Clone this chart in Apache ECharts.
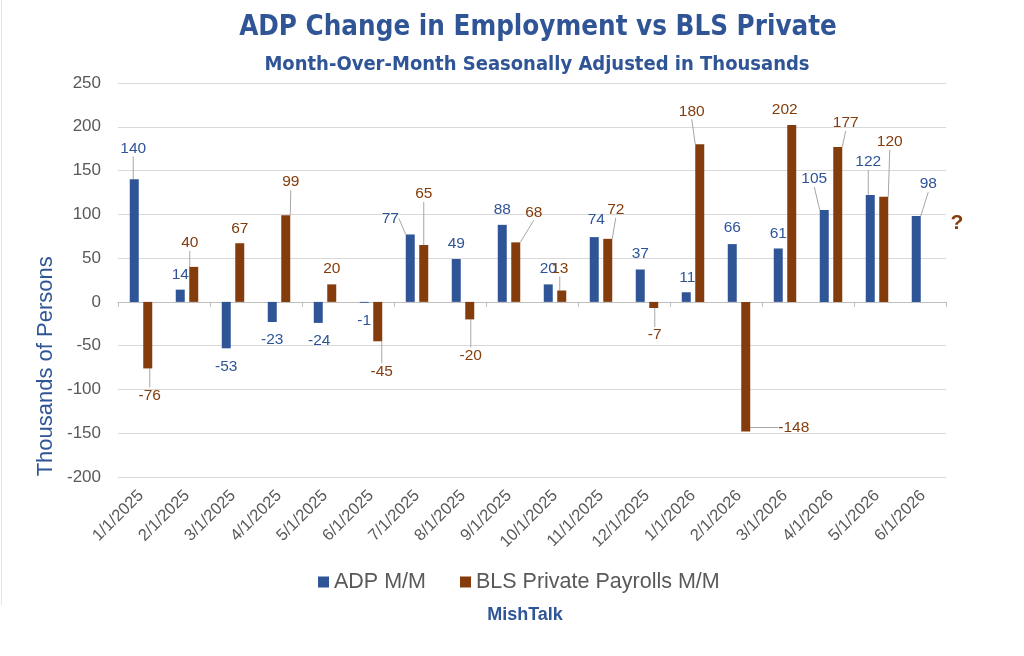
<!DOCTYPE html>
<html>
<head>
<meta charset="utf-8">
<script src="https://cdn.jsdelivr.net/npm/echarts@6/dist/echarts.min.js"></script>
<style>
html,body{margin:0;padding:0;background:#fff;}
#chart{width:1024px;height:656px;}
</style>
</head>
<body>
<div id="chart"></div>
<script>
// ---- data ----
var categories = ["1/1/2025","2/1/2025","3/1/2025","4/1/2025","5/1/2025","6/1/2025","7/1/2025","8/1/2025","9/1/2025","10/1/2025","11/1/2025","12/1/2025","1/1/2026","2/1/2026","3/1/2026","4/1/2026","5/1/2026","6/1/2026"];
var adpValues = [140, 14, -53, -23, -24, -1, 77, 49, 88, 20, 74, 37, 11, 66, 61, 105, 122, 98];
var blsValues = [-76, 40, 67, 99, 20, -45, 65, -20, 68, 13, 72, -7, 180, -148, 202, 177, 120, null];
var yTicks = [-200, -150, -100, -50, 0, 50, 100, 150, 200, 250];
var seriesNames = ["ADP M/M", "BLS Private Payrolls M/M"];

// ---- label placement (Excel-style moved labels), [dx, dy, showLeader] ----
var adpLabelMoves = [[-1,-18,1],[0,-2,0],[0,5,0],[0,5,0],[1,5,0],[0,5,0],[-20,-3,1],[0,-2,0],[0,-2,0],[0,-3,0],[2,-4,0],[0,-3,0],[1,-2,0],[0,-3,0],[0,-2,0],[-10,-18,1],[-2,-20,1],[12,-19,1]];
var blsLabelMoves = [[2,14,1],[-4,-11,1],[0,-2,0],[5,-20,1],[0,-3,0],[4,17,1],[0,-38,1],[1,23,1],[18,-17,1],[-2,-9,1],[8,-16,1],[1,14,1],[-8,-20,1],[48,-17,1],[-7,-2,0],[8,-11,1],[6,-42,1],[0,0,0]];

var ADP_COLOR = '#2F5597';
var BLS_COLOR = '#843C0C';
var AXIS_TEXT = '#595959';
var FONT = 'Liberation Sans, Arial, sans-serif';
var NARROW = '"Liberation Sans Narrow", "DejaVu Sans Condensed", sans-serif';

function buildData(values, moves) {
  return values.map(function (v, i) {
    return {
      value: v,
      label: { position: v < 0 ? 'bottom' : 'top' },
      labelLine: { show: !!moves[i][2] }
    };
  });
}

var chart = echarts.init(document.getElementById('chart'), null, { renderer: 'canvas' });

var option = {
  backgroundColor: '#ffffff',
  animation: false,
  title: [
    { text: 'ADP Change in Employment vs BLS Private', left: 533, top: 9, textAlign: 'center',
      textStyle: { fontFamily: NARROW, fontWeight: 'bold', fontSize: 27.5, color: ADP_COLOR } },
    { text: 'Month-Over-Month Seasonally Adjusted in Thousands', left: 532, top: 50, textAlign: 'center',
      textStyle: { fontFamily: NARROW, fontWeight: 'bold', fontSize: 20, color: ADP_COLOR } },
    { text: 'MishTalk', left: 520, top: 601, textAlign: 'center',
      textStyle: { fontFamily: FONT, fontWeight: 'bold', fontSize: 18, color: ADP_COLOR } }
  ],
  legend: {
    data: seriesNames,
    left: 313, top: 566,
    itemWidth: 11, itemHeight: 11, itemGap: 34,
    icon: 'rect',
    textStyle: { fontFamily: FONT, fontSize: 21.5, color: AXIS_TEXT }
  },
  grid: { left: 118, right: 78, top: 83, bottom: 179, containLabel: false },
  xAxis: [
    { type: 'category', data: categories, position: 'bottom',
      axisLine: { show: false, onZero: false }, axisTick: { show: false },
      axisLabel: { rotate: 45, margin: 16, fontFamily: FONT, fontSize: 16.5, color: AXIS_TEXT, interval: 0 } },
    { type: 'category', data: categories, position: 'bottom',
      axisLine: { show: true, onZero: true, lineStyle: { color: '#bfbfbf', width: 1 } },
      axisTick: { show: true, length: 5, lineStyle: { color: '#bfbfbf' } },
      axisLabel: { show: false } }
  ],
  yAxis: {
    type: 'value', min: yTicks[0], max: yTicks[yTicks.length - 1], interval: 50,
    axisLine: { show: false }, axisTick: { show: false },
    axisLabel: { margin: 17, fontFamily: FONT, fontSize: 17, color: AXIS_TEXT },
    splitLine: { show: true, lineStyle: { color: '#d9d9d9', width: 1 } }
  },
  series: [
    { name: seriesNames[0], type: 'bar', xAxisIndex: 0, data: buildData(adpValues, adpLabelMoves),
      barWidth: 9, barGap: '50%', itemStyle: { color: ADP_COLOR },
      label: { show: true, distance: 5, fontFamily: FONT, fontSize: 15.5, color: ADP_COLOR },
      labelLine: { lineStyle: { color: '#a6a6a6', width: 1 } },
      labelLayout: function (p) { var m = adpLabelMoves[p.dataIndex]; return { dx: m[0], dy: m[1] }; }
    },
    { name: seriesNames[1], type: 'bar', xAxisIndex: 0, data: buildData(blsValues, blsLabelMoves),
      barWidth: 9, barGap: '50%', itemStyle: { color: BLS_COLOR },
      label: { show: true, distance: 5, fontFamily: FONT, fontSize: 15.5, color: BLS_COLOR },
      labelLine: { lineStyle: { color: '#a6a6a6', width: 1 } },
      labelLayout: function (p) { var m = blsLabelMoves[p.dataIndex]; return { dx: m[0], dy: m[1] }; }
    }
  ]
};
chart.setOption(option);

// annotations tied to scales
var lastPt = chart.convertToPixel({ xAxisIndex: 0, yAxisIndex: 0 }, [categories.length - 1, 90]);
var midY = chart.convertToPixel({ yAxisIndex: 0 }, -45);
chart.setOption({
  graphic: [
    { type: 'text', x: lastPt[0] + 34, y: lastPt[1], style: { text: '?', fontFamily: FONT, fontWeight: 'bold', fontSize: 21, fill: BLS_COLOR, align: 'center', verticalAlign: 'middle' } },
    { type: 'text', x: 46, y: midY + 25, rotation: Math.PI / 2, style: { text: 'Thousands of Persons', fontFamily: FONT, fontSize: 22, fill: ADP_COLOR, align: 'center', verticalAlign: 'middle' } },
    { type: 'line', shape: { x1: 1.5, y1: 0, x2: 1.5, y2: 605 }, style: { stroke: '#e6e6e6', lineWidth: 1 } }
  ]
});
</script>
</body>
</html>
